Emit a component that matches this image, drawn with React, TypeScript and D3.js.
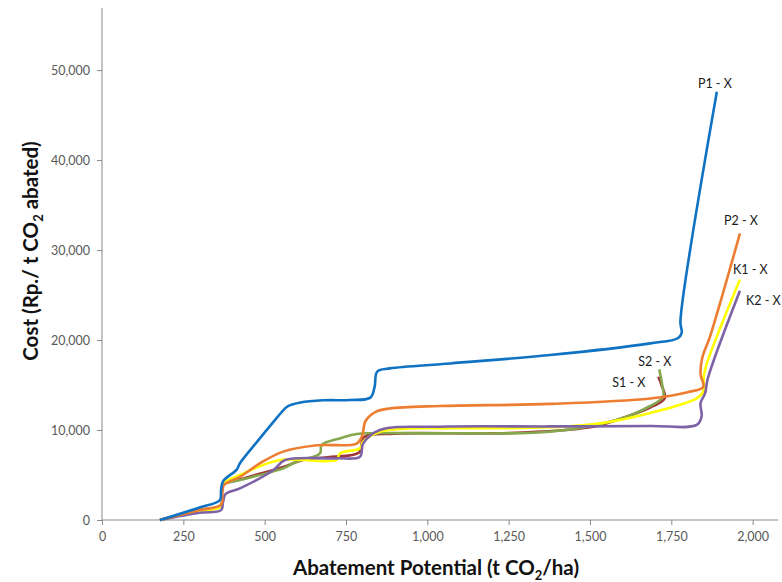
import React, { useEffect, useRef } from "react";
import * as d3 from "d3";

// series points: [abatement potential, cost]
const seriesNames = ["S1 - X", "S2 - X", "K1 - X", "K2 - X", "P2 - X", "P1 - X"];

const s1: [number, number][] = [
  [178, 0], [300, 1100], [366, 1600], [368, 3000], [372, 3900], [424, 4500], [557, 5900],
  [620, 6700], [700, 7000], [790, 7500], [805, 9200], [900, 9600], [1250, 9650], [1500, 10300],
  [1582, 11110], [1685, 12500], [1730, 13520], [1720, 15000], [1710, 15930],
];
const s2: [number, number][] = [
  [178, 0], [300, 1100], [366, 1600], [368, 3000], [372, 3900], [424, 4440], [557, 5740],
  [598, 6480], [670, 7410], [675, 8330], [731, 9070], [783, 9560], [1039, 9630], [1377, 9810],
  [1582, 11110], [1685, 12670], [1725, 13700], [1722, 15000], [1713, 16740],
];
const k1: [number, number][] = [
  [178, 0], [300, 1000], [366, 1500], [368, 3000], [372, 4000], [424, 5000], [547, 6670],
  [721, 6670], [731, 7400], [793, 7960], [803, 8700], [854, 9800], [936, 10150], [1070, 10190],
  [1377, 10300], [1531, 10740], [1685, 11890], [1828, 13520], [1848, 14260], [1850, 16000],
  [1860, 17500], [1961, 26740],
];
const k2: [number, number][] = [
  [178, 0], [300, 800], [366, 1100], [372, 2000], [380, 2900], [424, 3520], [527, 5560],
  [563, 6670], [721, 6850], [793, 7040], [803, 8520], [854, 10000], [1039, 10370], [1377, 10400],
  [1685, 10450], [1828, 10560], [1843, 11480], [1840, 13000], [1854, 14100], [1862, 15700],
  [1961, 25480],
];
const p2: [number, number][] = [
  [178, 0], [300, 1100], [366, 1700], [370, 3000], [375, 3900], [424, 4800], [490, 6400],
  [557, 7600], [660, 8300], [783, 8500], [800, 9400], [810, 11000], [840, 12000], [885, 12400],
  [1039, 12670], [1377, 12900], [1685, 13500], [1800, 14200], [1848, 14800], [1840, 16200],
  [1845, 18000], [1870, 20500], [1961, 31850],
];
const p1: [number, number][] = [
  [178, 0], [300, 1400], [362, 2200], [366, 3300], [372, 4300], [414, 5600], [424, 6300],
  [470, 8400], [520, 10600], [560, 12300], [572, 12650], [610, 13050], [680, 13300],
  [762, 13330], [825, 13600], [838, 14800], [846, 16500], [885, 16850], [1070, 17400],
  [1377, 18330], [1685, 19630], [1770, 20200], [1782, 20800], [1778, 22000], [1890, 47600],
];
const seriesValues = [s1, s2, k1, k2, p2, p1];

const xTicks = [0, 250, 500, 750, 1000, 1250, 1500, 1750, 2000];
const yTicks = [0, 10000, 20000, 30000, 40000, 50000];

const colors = ["#A0353A", "#86A84C", "#FFFF00", "#7E62A6", "#ED7D31", "#0F72C3"];
// where each end label sits relative to the end of its line
const labelOffset: Record<string, [number, number, string]> = {
  "P1 - X": [-2, -4, "middle"],
  "P2 - X": [1, -8, "middle"],
  "K1 - X": [-7, -5, "start"],
  "K2 - X": [6, 14, "start"],
  "S2 - X": [-21, -3, "start"],
  "S1 - X": [-46, 10, "start"],
};

export default function App() {
  const ref = useRef<SVGSVGElement | null>(null);

  useEffect(() => {
    document.body.style.margin = "0";
    if (!ref.current) return;
    const svg = d3.select(ref.current);
    svg.selectAll("*").remove();

    const x = d3.scaleLinear().domain([0, 2078]).range([102, 778]);
    const y = d3.scaleLinear().domain([0, 56900]).range([520, 8]);
    const font = "Lato, 'Open Sans', sans-serif";

    // y axis
    const yAxis = svg.append("g")
      .attr("transform", "translate(102,0)")
      .call(d3.axisLeft(y).tickValues(yTicks).tickSize(5).tickFormat(d3.format(",")));
    yAxis.select(".domain").attr("stroke", "#898989").attr("d", "M0,8V520");
    yAxis.selectAll(".tick line").attr("stroke", "#898989");
    yAxis.selectAll(".tick text")
      .attr("fill", "#595959").attr("font-size", 12.5).attr("font-family", font).attr("x", -12);

    // x axis
    const xAxis = svg.append("g")
      .attr("transform", "translate(0,520)")
      .call(d3.axisBottom(x).tickValues(xTicks).tickSize(5).tickFormat(d3.format(",")));
    xAxis.select(".domain").attr("stroke", "#898989").attr("d", "M102,0H778");
    xAxis.selectAll(".tick line").attr("stroke", "#898989");
    xAxis.selectAll(".tick text")
      .attr("fill", "#595959").attr("font-size", 12.5).attr("font-family", font).attr("y", 12);

    const line = d3.line<[number, number]>()
      .x(d => x(d[0]))
      .y(d => y(d[1]))
      .curve(d3.curveCatmullRom.alpha(0.5));

    seriesValues.forEach((pts, i) => {
      svg.append("path")
        .attr("d", line(pts))
        .attr("fill", "none")
        .attr("stroke", colors[i])
        .attr("stroke-width", 2.6)
        .attr("stroke-linejoin", "round");
    });

    seriesValues.forEach((pts, i) => {
      const name = seriesNames[i];
      const end = pts[pts.length - 1];
      const [dx, dy, anchor] = labelOffset[name];
      svg.append("text")
        .attr("x", x(end[0]) + dx)
        .attr("y", y(end[1]) + dy)
        .attr("text-anchor", anchor)
        .attr("font-family", font)
        .attr("font-size", 12.5)
        .attr("fill", "#1a1a1a")
        .text(name);
    });

    // axis titles
    const xt = svg.append("text")
      .attr("x", 436).attr("y", 575)
      .attr("text-anchor", "middle")
      .attr("font-family", font).attr("font-weight", "bold").attr("font-size", 20.5)
      .attr("fill", "#111");
    xt.append("tspan").text("Abatement Potential (t CO");
    xt.append("tspan").attr("font-size", 13).attr("dy", 5).text("2");
    xt.append("tspan").attr("dy", -5).text("/ha)");

    const yt = svg.append("text")
      .attr("transform", "translate(38,251) rotate(-90)")
      .attr("text-anchor", "middle")
      .attr("font-family", font).attr("font-weight", "bold").attr("font-size", 20.5)
      .attr("fill", "#111");
    yt.append("tspan").text("Cost (Rp./ t CO");
    yt.append("tspan").attr("font-size", 13).attr("dy", 5).text("2");
    yt.append("tspan").attr("dy", -5).text(" abated)");
  }, []);

  return <svg ref={ref} width={782} height={582} style={{ display: "block", background: "#fff" }} />;
}
